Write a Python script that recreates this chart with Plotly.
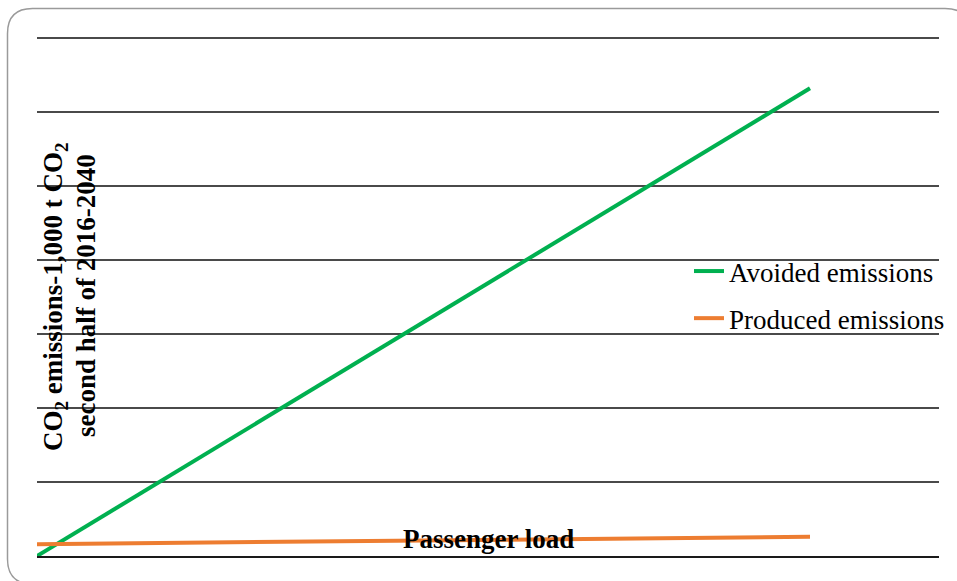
import plotly.graph_objects as go

# ---- data ----
passenger_load = [0, 100]
avoided_emissions = [0, 632]
produced_emissions = [16, 26]
series_names = ["Avoided emissions", "Produced emissions"]
series_colors = ["#00B050", "#ED7D31"]

W, H = 957, 581
ML, MR, MT, MB = 37, 18, 30, 25
PW, PH = W - ML - MR, H - MT - MB
GRID_TOP_PX = 38  # pixel where the 700 gridline sits


def px_x(p):
    return (p - ML) / PW


def px_y(p):
    return (H - MB - p) / PH


SERIF = "Liberation Serif, Times New Roman, serif"

fig = go.Figure()
fig.add_trace(go.Scatter(x=passenger_load, y=avoided_emissions, mode="lines",
                         name=series_names[0], legendgroup="a",
                         line=dict(color=series_colors[0], width=4)))
fig.add_trace(go.Scatter(x=passenger_load, y=produced_emissions, mode="lines",
                         name=series_names[1], legendgroup="b",
                         line=dict(color=series_colors[1], width=4)))

# rounded border (decoration)
x0, y0, x1, y1, r = px_x(7.5), px_y(8.5), px_x(970), px_y(584), 25
rx, ry = r / PW, r / PH
path = (f"M{x0+rx},{y0} L{x1-rx},{y0} Q{x1},{y0} {x1},{y0-ry} "
        f"L{x1},{y1+ry} Q{x1},{y1} {x1-rx},{y1} L{x0+rx},{y1} "
        f"Q{x0},{y1} {x0},{y1+ry} L{x0},{y0-ry} Q{x0},{y0} {x0+rx},{y0} Z")

ytop = 700 * PH / (H - MB - GRID_TOP_PX)

fig.update_layout(
    width=W, height=H,
    margin=dict(l=ML, r=MR, t=MT, b=MB, autoexpand=False),
    paper_bgcolor="white", plot_bgcolor="white",
    font=dict(family=SERIF, size=27, color="black"),
    xaxis=dict(range=[0, 100 * PW / (810 - ML)], showgrid=False, zeroline=False,
               showticklabels=False, ticks="", showline=True,
               linecolor="#1a1a1a", linewidth=2),
    yaxis=dict(range=[0, ytop], tick0=0, dtick=100, showgrid=True,
               gridcolor="#4a4a4a", gridwidth=1.5, zeroline=False,
               showticklabels=False, ticks=""),
    showlegend=True,
    legend=dict(x=px_x(689), y=px_y(247), xanchor="left", yanchor="top",
                bgcolor="rgba(0,0,0,0)", tracegroupgap=9,
                font=dict(family=SERIF, size=27, color="black")),
    shapes=[dict(type="path", xref="paper", yref="paper", path=path,
                 line=dict(color="#9a9a9a", width=1.5), layer="below")],
    annotations=[
        dict(text="<b>CO<sub>2</sub> emissions-1,000 t CO<sub>2</sub></b>",
             xref="paper", yref="paper", x=px_x(55), y=px_y(297),
             xanchor="center", yanchor="middle", textangle=-90, showarrow=False,
             font=dict(family=SERIF, size=27, color="black")),
        dict(text="<b>second half of 2016-2040</b>",
             xref="paper", yref="paper", x=px_x(86), y=px_y(296),
             xanchor="center", yanchor="middle", textangle=-90, showarrow=False,
             font=dict(family=SERIF, size=27, color="black")),
        dict(text="<b>Passenger load</b>",
             xref="paper", yref="paper", x=px_x(488), y=px_y(539),
             xanchor="center", yanchor="middle", showarrow=False,
             font=dict(family=SERIF, size=27, color="black")),
    ],
)

fig.write_html("out.html")
